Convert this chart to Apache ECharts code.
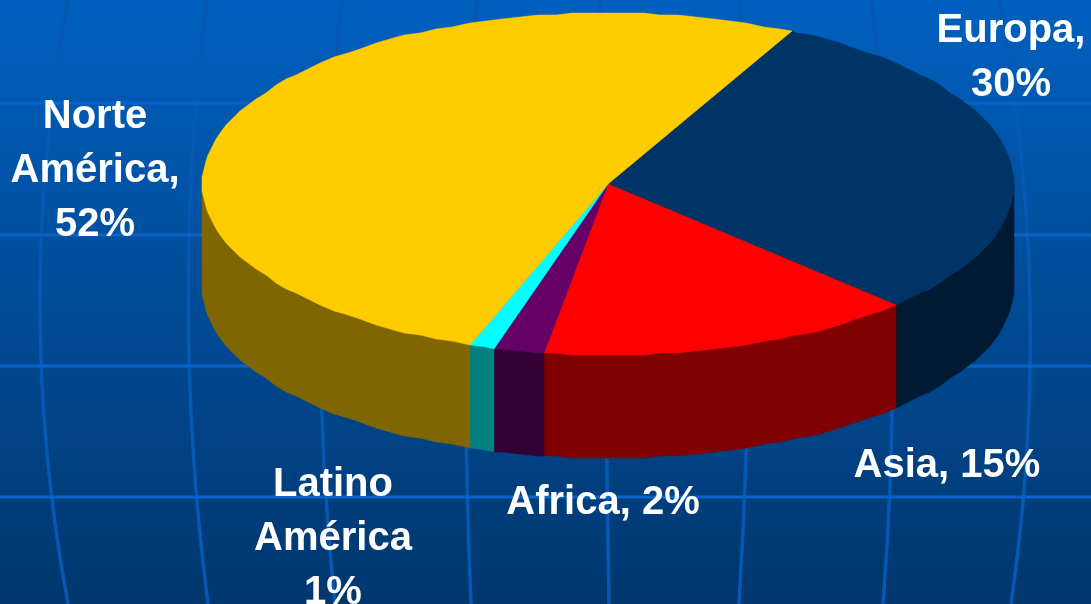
<!DOCTYPE html>
<html>
<head>
<meta charset="utf-8">
<title>Regiones</title>
<style>
  html, body { margin: 0; padding: 0; background: #004a94; }
  #chart { width: 1091px; height: 604px; }
</style>
<script src="https://cdn.jsdelivr.net/npm/echarts@6/dist/echarts.min.js"></script>
</head>
<body>
<div id="chart"></div>
<script>
// Slice data, clockwise from the Norte/Europa boundary order
const regionNames = ['Europa', 'Asia', 'Africa', 'Latino\nAmérica', 'Norte\nAmérica'];
const regionShares = [30, 15, 2, 1, 52];
const labelJoiners = [',\n', ', ', ', ', '\n', ',\n'];

// Styling per slice
const topColors = ['#003366', '#FF0000', '#660066', '#00FFFF', '#FFCC00'];
const sideColors = ['#001A33', '#800000', '#330033', '#008080', '#806600'];
const labelCentres = [[1011, 58], [947, 466], [603, 503], [333, 539], [95, 171]];

// Tilted disc geometry; the rim is slightly stepped on a pixel grid
const disc = { cx: 608, cy: 184, rx: 406, ry: 171, depth: 103, startDeg: 27, rimStep: 2.5, rimSnap: 2 };

// Wallpaper lines behind the chart
const latitudes = [103, 235, 366, 497];
const meridians = [
  [68, 12, 68], [207, 169, 208], [342, 303, 335], [477, 458, 471],
  [600, 605, 609], [740, 758, 739], [871, 907, 883], [999, 1055, 1011]
];

const total = regionShares.reduce((a, b) => a + b, 0);
const sliceSpans = [];
regionShares.reduce((acc, v) => {
  const end = acc + v / total * 360;
  sliceSpans.push([acc, end]);
  return end;
}, disc.startDeg);

function rimPoint(deg, drop) {
  const r = deg * Math.PI / 180;
  const s = disc.rimSnap;
  const x = disc.cx + disc.rx * Math.sin(r);
  const y = disc.cy - disc.ry * Math.cos(r);
  return [Math.round(x / s) * s, Math.round((y - 1) / s) * s + 1 + drop];
}

// Rim samples sit on a shared angular grid so that faces and walls line up
function arcPoints(a0, a1, drop) {
  const st = disc.rimStep;
  const angles = [a0];
  for (let k = Math.floor(a0 / st) + 1; k * st < a1; k++) angles.push(k * st);
  angles.push(a1);
  return angles.map(a => rimPoint(a, drop));
}

// Outer wall: only the part of the rim facing the viewer (90deg to 270deg)
function renderWall(params, api) {
  const span = sliceSpans[params.dataIndex];
  const a0 = Math.max(span[0], 90);
  const a1 = Math.min(span[1], 270);
  if (a1 <= a0) return { type: 'group', children: [] };
  const color = sideColors[params.dataIndex];
  return {
    type: 'polygon',
    shape: { points: arcPoints(a0, a1, 0).concat(arcPoints(a0, a1, disc.depth).reverse()) },
    style: { fill: color, stroke: color, lineWidth: 0.5 }
  };
}

// Upper face of each slice
function renderTop(params, api) {
  const span = sliceSpans[params.dataIndex];
  const color = topColors[params.dataIndex];
  return {
    type: 'polygon',
    shape: { points: [[disc.cx, disc.cy]].concat(arcPoints(span[0], span[1], 0)) },
    style: { fill: color, stroke: color, lineWidth: 0.5 }
  };
}

function renderLabel(params, api) {
  const i = params.dataIndex;
  return {
    type: 'text',
    style: {
      x: labelCentres[i][0],
      y: labelCentres[i][1],
      text: regionNames[i] + labelJoiners[i] + regionShares[i] + '%',
      align: 'center',
      verticalAlign: 'middle',
      fill: '#FFFFFF',
      font: 'bold 40px "Liberation Sans", Arial, sans-serif',
      lineHeight: 54
    }
  };
}

const wallpaper = [];
meridians.forEach(m => {
  wallpaper.push({
    type: 'bezierCurve',
    shape: { x1: m[0], y1: 0, cpx1: m[1], cpy1: 302, x2: m[2], y2: 604 },
    style: { fill: null, stroke: '#0758B2', lineWidth: 3.5 },
    silent: true
  });
});
latitudes.forEach(y => {
  wallpaper.push({
    type: 'rect',
    shape: { x: 0, y: y - 1.5, width: 1091, height: 3 },
    style: { fill: '#0A62CA' },
    silent: true
  });
});

const seriesData = regionShares.map((v, i) => ({ name: regionNames[i], value: v }));

const chart = echarts.init(document.getElementById('chart'), null, { renderer: 'canvas' });
chart.setOption({
  animation: false,
  backgroundColor: new echarts.graphic.LinearGradient(0, 0, 0, 1, [
    { offset: 0, color: '#0060BF' },
    { offset: 1, color: '#00376E' }
  ]),
  graphic: { elements: wallpaper },
  series: [
    { type: 'custom', coordinateSystem: 'none', silent: true, data: seriesData, renderItem: renderWall, z: 2 },
    { type: 'custom', coordinateSystem: 'none', silent: true, data: seriesData, renderItem: renderTop, z: 3 },
    { type: 'custom', coordinateSystem: 'none', silent: true, data: seriesData, renderItem: renderLabel, z: 4 }
  ]
});
</script>
</body>
</html>
